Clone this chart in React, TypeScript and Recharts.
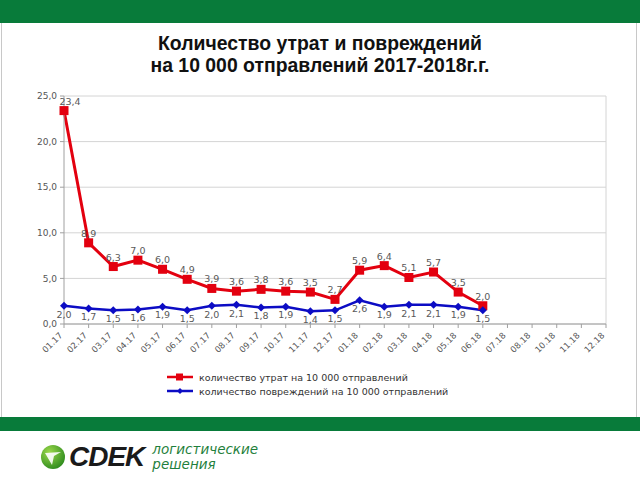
import { LineChart, Line, XAxis, YAxis, CartesianGrid, LabelList, Legend } from 'recharts';

// Количество утрат и повреждений на 10 000 отправлений, 2017-2018

const months = [
  '01.17', '02.17', '03.17', '04.17', '05.17', '06.17', '07.17', '08.17', '09.17', '10.17', '11.17', '12.17',
  '01.18', '02.18', '03.18', '04.18', '05.18', '06.18', '07.18', '08.18', '10.18', '11.18', '12.18',
];
const losses = [23.4, 8.9, 6.3, 7.0, 6.0, 4.9, 3.9, 3.6, 3.8, 3.6, 3.5, 2.7, 5.9, 6.4, 5.1, 5.7, 3.5, 2.0, null, null, null, null, null];
const damages = [2.0, 1.7, 1.5, 1.6, 1.9, 1.5, 2.0, 2.1, 1.8, 1.9, 1.4, 1.5, 2.6, 1.9, 2.1, 2.1, 1.9, 1.5, null, null, null, null, null];
const yTicks = [0, 5, 10, 15, 20, 25];

const lossName = 'количество утрат на 10 000 отправлений';
const damageName = 'количество повреждений на 10 000 отправлений';
const legendOrder = [lossName, damageName];

const RED = '#E3000F';
const BLUE = '#0C0CC4';
const GREEN = '#087B3A';
const FONT = '"DejaVu Sans", Verdana, sans-serif';

const data = months.map((m, i) => ({ month: m, losses: losses[i], damages: damages[i] }));

const fmt = (v: any) => (v == null || v === '' ? '' : Number(v).toFixed(1).replace('.', ','));

const SquareDot = (p: any) => {
  const { cx, cy, index } = p;
  if (cx == null || cy == null) return <g key={`sq-${index}`} />;
  return <rect key={`sq-${index}`} x={cx - 4.5} y={cy - 4.5} width={9} height={9} fill={RED} />;
};

const DiamondDot = (p: any) => {
  const { cx, cy, index } = p;
  if (cx == null || cy == null) return <g key={`dm-${index}`} />;
  return <path key={`dm-${index}`} d={`M${cx},${cy - 4}L${cx + 4},${cy}L${cx},${cy + 4}L${cx - 4},${cy}Z`} fill={BLUE} />;
};

// labels above the red markers; the first one is nudged right like in Excel so it clears "25,0"
const TopLabel = (p: any) => {
  const { x, y, value, index } = p;
  if (value == null || x == null || y == null) return null;
  const dx = index === 0 ? 6 : 0;
  return (
    <text x={x + dx} y={y - 6} textAnchor="middle" fontSize={9.5} fill="#595959" fontFamily={FONT}>
      {fmt(value)}
    </text>
  );
};

const XTick = ({ x, y, payload }: any) => {
  const ax = x - 1;
  const ay = y + 6;
  return (
    <text x={ax} y={ay} transform={`rotate(-45 ${ax} ${ay})`} textAnchor="end" fontSize={8.5} fill="#555" fontFamily={FONT}>
      {payload.value}
    </text>
  );
};

const LegendBox = (props: any) => {
  const items = [...(props.payload || [])].sort(
    (a: any, b: any) => legendOrder.indexOf(a.value) - legendOrder.indexOf(b.value),
  );
  return (
    <div style={{ fontFamily: FONT, fontSize: 9.5, color: '#333' }}>
      {items.map((it: any) => (
        <div key={it.value} style={{ display: 'flex', alignItems: 'center', height: 14 }}>
          <svg width={30} height={10} style={{ marginRight: 3 }}>
            <line x1={1} y1={5} x2={27} y2={5} stroke={it.color} strokeWidth={2.5} />
            {it.color === RED ? (
              <rect x={10} y={1.5} width={7} height={7} fill={RED} />
            ) : (
              <path d="M14,2L17,5L14,8L11,5Z" fill={BLUE} />
            )}
          </svg>
          <span>{it.value}</span>
        </div>
      ))}
    </div>
  );
};

function Logo() {
  return (
    <div style={{ position: 'absolute', left: 40, top: 441, display: 'flex', alignItems: 'center' }}>
      <svg width={26} height={26}>
        <defs>
          <radialGradient id="lg" cx="35%" cy="30%" r="75%">
            <stop offset="0%" stopColor="#9BD84A" />
            <stop offset="100%" stopColor="#2E8B1E" />
          </radialGradient>
        </defs>
        <circle cx={13} cy={13} r={12} fill="url(#lg)" />
        <path d="M5,9 L21,8 L14,12 L12,21 Z" fill="#fff" opacity={0.9} />
      </svg>
      <span style={{ fontFamily: '"Liberation Sans", Arial, sans-serif', fontWeight: 900, fontStyle: 'italic', fontSize: 28, color: '#1a1a1a', marginLeft: 3, letterSpacing: -1 }}>
        CDEK
      </span>
      <div style={{ fontFamily: '"DejaVu Sans", sans-serif', fontStyle: 'italic', fontSize: 13.5, color: '#1F7F3C', marginLeft: 8, lineHeight: '15px' }}>
        <div>логистические</div>
        <div>решения</div>
      </div>
    </div>
  );
}

export default function App() {
  return (
    <div style={{ position: 'absolute', left: 0, top: 0, width: 640, height: 480, background: '#fff', overflow: 'hidden' }}>
      <div style={{ position: 'absolute', left: 0, top: 0, width: 640, height: 23, background: GREEN }} />
      <div style={{ position: 'absolute', left: 1, top: 23, width: 1, height: 394, background: '#c8c8c8' }} />
      <div style={{ position: 'absolute', left: 636, top: 23, width: 1, height: 394, background: '#c8c8c8' }} />
      <div style={{ position: 'absolute', left: 0, top: 417, width: 640, height: 14, background: GREEN }} />
      <div
        style={{
          position: 'absolute', left: 0, top: 32, width: 640, textAlign: 'center',
          fontFamily: '"Liberation Sans", Arial, sans-serif', fontWeight: 700, fontSize: 19.4, lineHeight: '22px', color: '#111',
        }}
      >
        <div>Количество утрат и повреждений</div>
        <div>на 10 000 отправлений 2017-2018г.г.</div>
      </div>
      <div style={{ position: 'absolute', left: 0, top: 0 }}>
        <LineChart width={640} height={480} data={data} margin={{ top: 96, right: 34, left: 24, bottom: 116 }}>
          <CartesianGrid
            stroke="#d4d4d4"
            verticalCoordinatesGenerator={({ offset }: any) => [offset.left + offset.width]}
          />
          <XAxis
            dataKey="month"
            height={40}
            interval={0}
            tickSize={4}
            tickMargin={2}
            stroke="#a0a0a0"
            tick={<XTick />}
          />
          <YAxis
            width={40}
            domain={[0, 25]}
            ticks={yTicks}
            interval={0}
            tickSize={4}
            tickMargin={3}
            stroke="#a0a0a0"
            tickFormatter={fmt}
            tick={{ fontSize: 9, fill: '#555', fontFamily: FONT }}
          />
          <Legend
            layout="vertical"
            align="center"
            verticalAlign="middle"
            content={<LegendBox />}
            wrapperStyle={{ top: 370, left: 166, width: 320 }}
          />
          <Line
            dataKey="losses"
            name={lossName}
            stroke={RED}
            strokeWidth={3}
            dot={SquareDot}
            activeDot={false}
            isAnimationActive={false}
          >
            <LabelList dataKey="losses" content={TopLabel} />
          </Line>
          <Line
            dataKey="damages"
            name={damageName}
            stroke={BLUE}
            strokeWidth={2.5}
            dot={DiamondDot}
            activeDot={false}
            isAnimationActive={false}
          >
            <LabelList dataKey="damages" position="bottom" offset={5} formatter={fmt} fontSize={9.5} fill="#595959" fontFamily={FONT} />
          </Line>
        </LineChart>
      </div>
      <Logo />
    </div>
  );
}
